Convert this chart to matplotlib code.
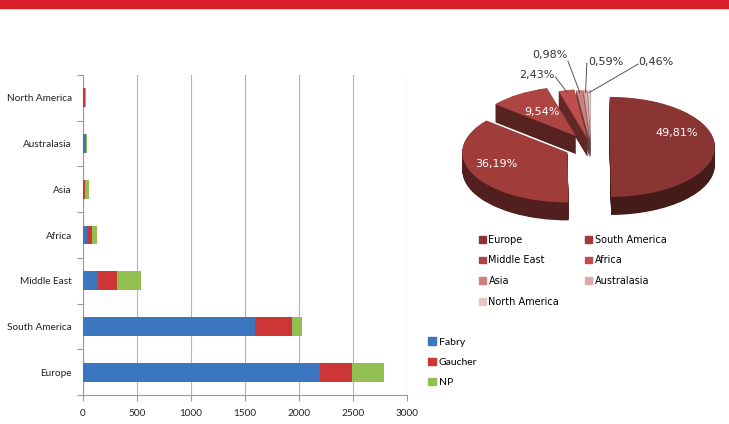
import matplotlib
matplotlib.use("Agg")
import matplotlib.pyplot as plt
from matplotlib.patches import Rectangle, Patch
from matplotlib.colors import to_rgb
import numpy as np

# bar chart data (bottom to top)
regions = ["Europe", "South America", "Middle East", "Africa",
           "Asia", "Australasia", "North America"]
fabry = [2198, 1593, 139, 37, 3, 31, 2]
gaucher = [290, 339, 176, 43, 19, 0, 20]
np_dis = [302, 93, 219, 53, 34, 2, 4]

# pie data (share of patients per region, %)
pie_regions = ["Europe", "South America", "Middle East", "Africa",
               "Asia", "Australasia", "North America"]
pie_pct = [49.81, 36.19, 9.54, 2.43, 0.98, 0.59, 0.46]
pie_labels = ["49,81%", "36,19%", "9,54%", "2,43%", "0,98%", "0,59%", "0,46%"]

bar_colors = ["#3b74bf", "#cc3636", "#92c050"]
pie_colors = ["#8a3533", "#a03d3b", "#ad4542", "#bf4f4c",
              "#cd807e", "#dba9a8", "#e6c6c5"]

W, H = 729, 424
fig = plt.figure(figsize=(W / 100, H / 100), dpi=100)

def px_axes(x0, y0, x1, y1):
    # axes from pixel box (top-left origin)
    return fig.add_axes([x0 / W, 1 - y1 / H, (x1 - x0) / W, (y1 - y0) / H])

# red band at top
fig.patches.append(Rectangle((0, 1 - 8 / H), 1, 8 / H, transform=fig.transFigure,
                             color="#d9202a", zorder=0))

# ---------------- stacked bar chart ----------------
ax = px_axes(83, 75, 407, 395)
y = np.arange(len(regions))
left = np.zeros(len(regions))
for vals, col, name in zip([fabry, gaucher, np_dis], bar_colors,
                           ["Fabry", "Gaucher", "NP"]):
    ax.barh(y, vals, left=left, height=0.41, color=col, label=name, zorder=3)
    left += np.array(vals)

ax.set_xlim(0, 3000)
ax.set_ylim(-0.5, len(regions) - 0.5)
ax.set_xticks(range(0, 3001, 500))
ax.set_yticks(y)
ax.set_yticklabels(regions)
ax.set_yticks(np.arange(-0.5, len(regions), 1), minor=True)
ax.tick_params(axis="y", which="major", length=0, pad=8, labelsize=7.2,
               labelcolor="#222222")
ax.tick_params(axis="y", which="minor", length=4, color="#999999", width=0.8)
ax.tick_params(axis="x", length=4, color="#999999", width=0.8, labelsize=7.2,
               labelcolor="#222222", pad=6)
for lab in ax.get_xticklabels() + ax.get_yticklabels():
    lab.set_family("Lato")
ax.grid(axis="x", color="#b5b5b5", linewidth=0.8, zorder=0)
for s in ["top", "right"]:
    ax.spines[s].set_visible(False)
for s in ["left", "bottom"]:
    ax.spines[s].set_color("#999999")
    ax.spines[s].set_linewidth(0.8)

handles = [Patch(color=c) for c in bar_colors]
fig.legend(handles, ["Fabry", "Gaucher", "NP"], loc="upper left",
           bbox_to_anchor=(419 / W, 1 - 328 / H), frameon=False,
           prop={"family": "Lato", "size": 7.5}, handlelength=0.7,
           handleheight=0.7, handletextpad=0.3, labelspacing=1.05)

# ---------------- 3D-looking pie ----------------
pax = px_axes(440, 40, 729, 230)
cx_px, cy_px, a_px, b_px = 591, 147, 105, 50
explode = [0.18, 0.25, 0.26, 0.16, 0.14, 0.14, 0.14]
depth = 0.36
nlayers = 30

def darker(c, f):
    r, g, b = to_rgb(c)
    return (r * f, g * f, b * f)

side_colors = [darker(c, 0.5) for c in pie_colors]
for i, dz in enumerate(np.linspace(depth, 0.01, nlayers)):
    pax.pie(pie_pct, explode=explode, startangle=90, counterclock=False,
            colors=side_colors, center=(0, -dz), radius=1,
            wedgeprops=dict(linewidth=0, zorder=i))
wedges, _ = pax.pie(pie_pct, explode=explode, startangle=90, counterclock=False,
                    colors=pie_colors, center=(0, 0), radius=1,
                    wedgeprops=dict(linewidth=0, zorder=nlayers + 1))

pax.set_aspect("auto")
pax.set_xlim((440 - cx_px) / a_px, (729 - cx_px) / a_px)
pax.set_ylim((cy_px - 230) / b_px, (cy_px - 40) / b_px)
pax.axis("off")

# label positions in pie units
label_pos = [(0.82, 0.28), (-0.90, -0.34), (-0.47, 0.70), (-0.52, 1.44),
             (-0.39, 1.84), (0.14, 1.70), (0.62, 1.70)]
inside = [True, True, True, False, False, False, False]
line_start = [None, None, None, (-0.34, 1.40), (-0.22, 1.72),
              (-0.04, 1.68), (0.45, 1.66)]
for w, lab, pos, ins, ls in zip(wedges, pie_labels, label_pos, inside,
                                line_start):
    txt_color = "white" if ins else "#333333"
    pax.text(pos[0], pos[1], lab, ha="center", va="center", fontsize=8,
             color=txt_color, family="DejaVu Sans", zorder=nlayers + 5)
    if ls is not None:
        ang = np.deg2rad((w.theta1 + w.theta2) / 2)
        cx, cy = w.center
        tx, ty = cx + 0.95 * np.cos(ang), cy + 0.95 * np.sin(ang)
        pax.plot([ls[0], tx], [ls[1], ty], color="#555555", linewidth=0.7,
                 zorder=nlayers + 4)

order = [0, 2, 4, 6, 1, 3, 5]
pie_handles = [Patch(color=pie_colors[i]) for i in order]
fig.legend(pie_handles, [pie_regions[i] for i in order], loc="upper left",
           bbox_to_anchor=(470 / W, 1 - 226 / H), ncol=2, frameon=False,
           prop={"family": "DejaVu Sans", "size": 7}, handlelength=0.7,
           handleheight=0.7, handletextpad=0.3, labelspacing=1.1,
           columnspacing=2.7)

fig.savefig("out.png", dpi=100)
